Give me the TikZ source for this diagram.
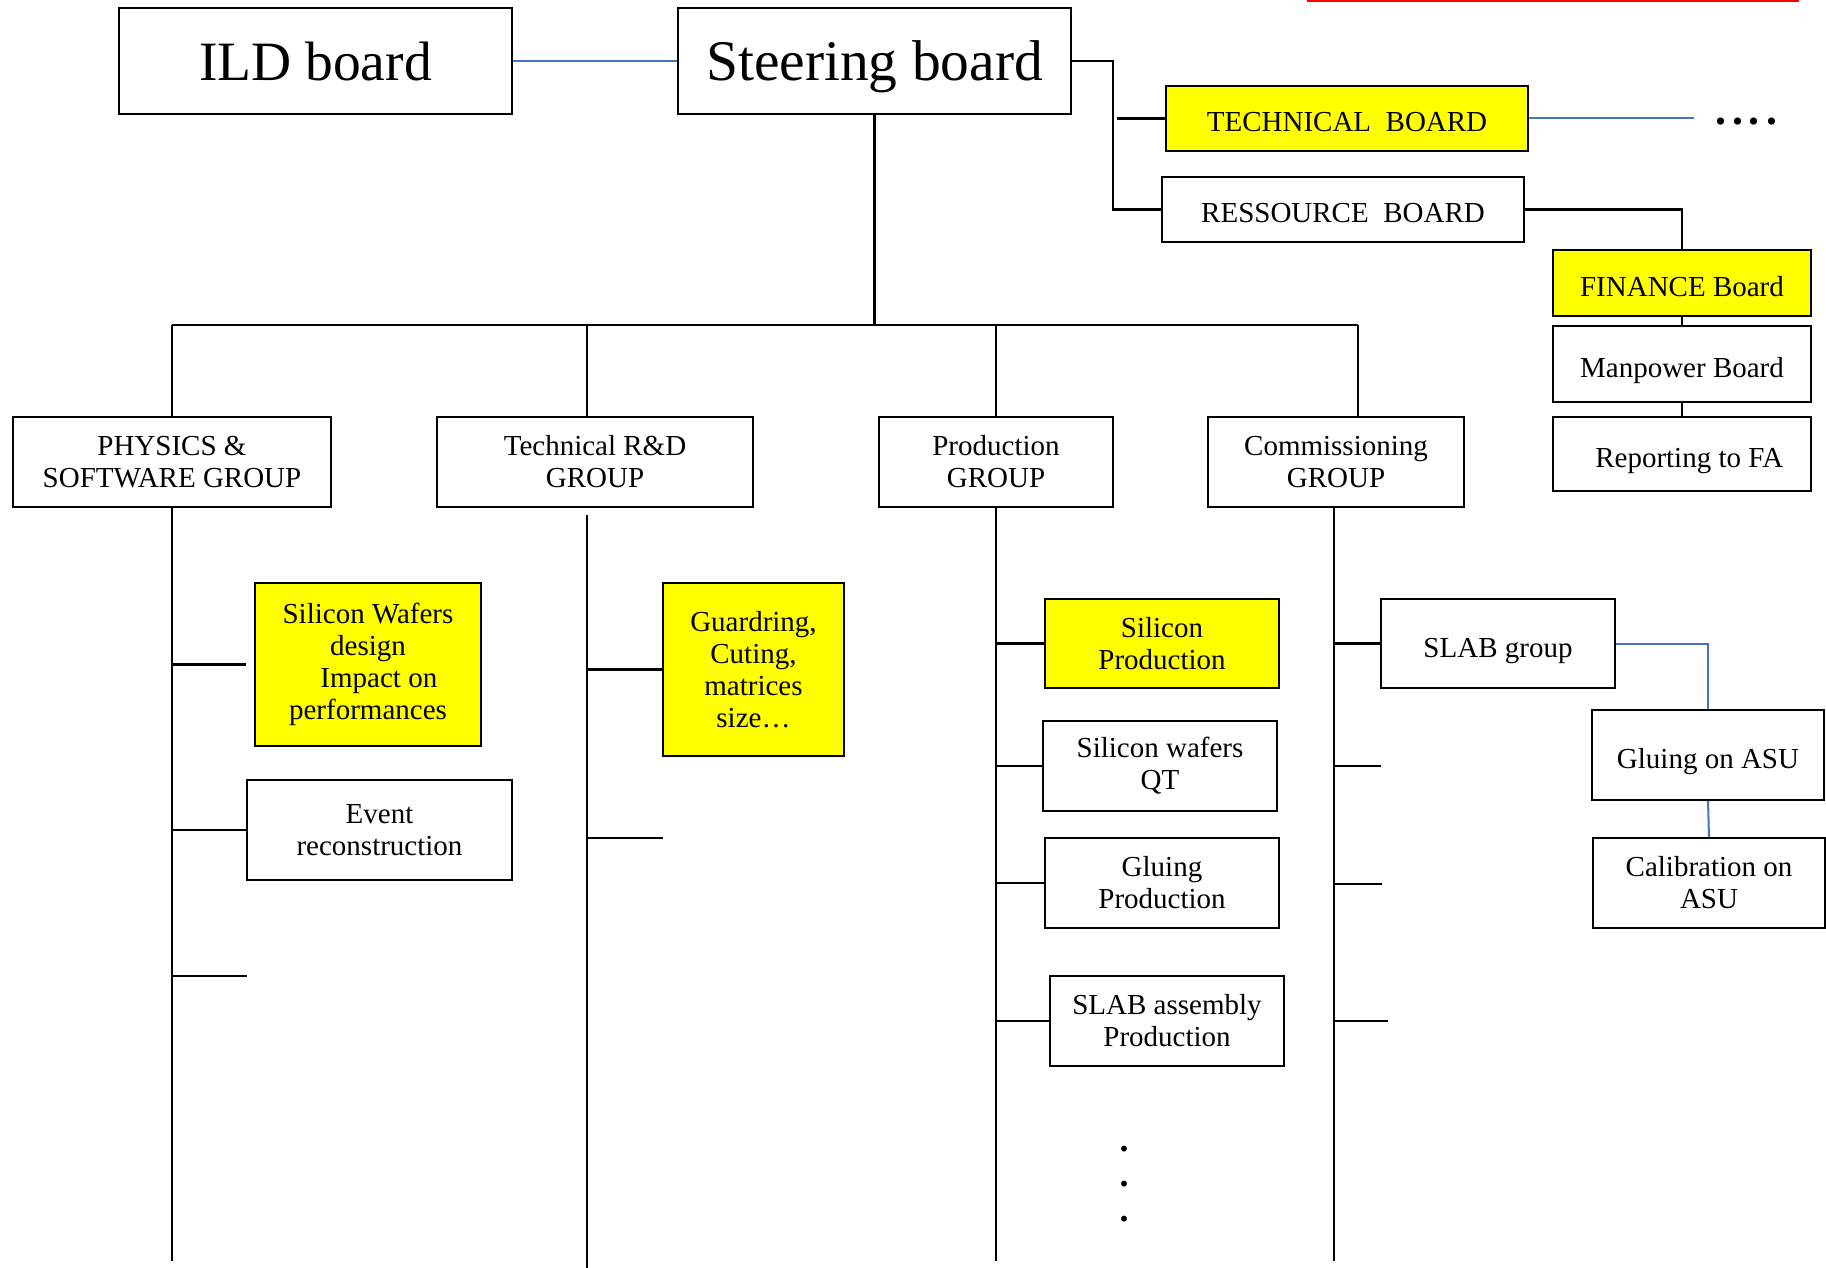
\documentclass[tikz,border=0pt]{standalone}
\usepackage{fontspec}
\setmainfont{Liberation Serif}
\definecolor{hl}{RGB}{255,255,0}
\definecolor{blueline}{RGB}{68,114,196}
\begin{document}
\begin{tikzpicture}[x=1pt,y=-1pt,
  box/.style={draw=black, line width=1.7pt, inner sep=0pt, align=center, font=\fontsize{29}{32}\selectfont},
  ybox/.style={box, fill=hl},
  one/.style={text height=27pt, text depth=0pt},
  big/.style={box, font=\fontsize{57.5}{60}\selectfont, text height=40pt, text depth=0pt},
  conn/.style={line width=2.2pt, black},
  bconn/.style={line width=2pt, blueline},
  dotnode/.style={inner sep=0pt, font=\fontsize{44}{44}\selectfont\bfseries}
]
\useasboundingbox (0,0) rectangle (1826,1268);
\draw[red, line width=3pt] (1307,1) -- (1799,1);

% top row
\node[big, font=\fontsize{55.5}{60}\selectfont, minimum width=393pt, minimum height=106pt] (ild) at (315.5,61) {ILD board};
\node[big, minimum width=393pt, minimum height=106pt] (steer) at (874.5,61) {Steering board};
\node[ybox, one, minimum width=362pt, minimum height=65pt] (tech) at (1347,118.5) {TECHNICAL\ \ BOARD};
\node[box, one, minimum width=362pt, minimum height=65pt] (ress) at (1343,209.5) {RESSOURCE\ \ BOARD};
\node[ybox, one, minimum width=258pt, minimum height=66pt] (fin) at (1682,283) {FINANCE Board};
\node[box, one, minimum width=258pt, minimum height=76pt] (man) at (1682,364) {Manpower Board};
\node[box, one, minimum width=258pt, minimum height=74pt] (rep) at (1682,454) {\ \ Reporting to FA};
\node[dotnode] (tdots) at (1746,122) {.\hspace{6pt}.\hspace{6pt}.\hspace{6pt}.};

% groups
\node[box, minimum width=318pt, minimum height=90pt] (phys) at (172,462) {PHYSICS \&\\SOFTWARE GROUP};
\node[box, minimum width=316pt, minimum height=90pt] (trd) at (595,462) {Technical R\&D\\GROUP};
\node[box, minimum width=234pt, minimum height=90pt] (prod) at (996,462) {Production\\GROUP};
\node[box, minimum width=256pt, minimum height=90pt] (comm) at (1336,462) {Commissioning\\GROUP};

% physics children
\node[ybox, minimum width=226pt, minimum height=163pt] (siw) at (368,664.5) {Silicon Wafers\\design\\\ \ \ Impact on\\performances};
\node[box, minimum width=265pt, minimum height=100pt] (ev) at (379.5,830) {Event\\reconstruction};
% technical children
\node[ybox, minimum width=181pt, minimum height=173pt] (gr) at (753.5,669.5) {Guardring,\\Cuting,\\matrices\\size\dots};
% production children
\node[ybox, minimum width=234pt, minimum height=89pt] (sip) at (1162,643.5) {Silicon\\Production};
\node[box, minimum width=234pt, minimum height=90pt] (qt) at (1160,766) {Silicon wafers\\QT};
\node[box, minimum width=234pt, minimum height=90pt] (glp) at (1162,883) {Gluing\\Production};
\node[box, minimum width=234pt, minimum height=90pt] (slp) at (1167,1021) {SLAB assembly\\Production};
\node[dotnode, font=\fontsize{36}{36}\selectfont\bfseries] (d1) at (1124,1149) {.};
\node[dotnode, font=\fontsize{36}{36}\selectfont\bfseries] (d2) at (1124,1184) {.};
\node[dotnode, font=\fontsize{36}{36}\selectfont\bfseries] (d3) at (1124,1219) {.};
% commissioning children
\node[box, one, minimum width=234pt, minimum height=89pt] (slab) at (1498,643.5) {SLAB group};
\node[box, one, minimum width=232pt, minimum height=90pt] (gasu) at (1708,755) {Gluing on ASU};
\node[box, minimum width=232pt, minimum height=90pt] (casu) at (1709,883) {Calibration on\\ASU};

% coordinates
\coordinate (bus) at (874.5,325);
\coordinate (busL) at (172,325);
\coordinate (busR) at (1358,325);
\coordinate (trdtop) at (587,325);
\coordinate (sr) at (1113,61);
\coordinate (tend) at (1694,118.5);
\coordinate (physend) at (172,1261);
\coordinate (trdstart) at (587,515);
\coordinate (trdend) at (587,1268);
\coordinate (prodend) at (996,1261);
\coordinate (commend) at (1334,1261);
\coordinate (ph3) at (247,976);
\coordinate (trd2) at (663,838);
\coordinate (c2) at (1381,766);
\coordinate (c3) at (1382,884);
\coordinate (c4) at (1388,1021);

% top connectors
\draw[bconn] (ild.east) -- (steer.west);
\draw[conn] (steer.east) -- (sr) -- (sr |- ress.west) -- (ress.west);
\draw[conn] ([xshift=4pt]sr |- tech.west) -- (tech.west);
\draw[bconn] (tech.east) -- (tend);
\draw[conn] (ress.east) -- (ress.east -| fin.north) -- (fin.north);
\draw[conn] (fin.south) -- (man.north);
\draw[conn] (man.south) -- (rep.north);

% bus
\draw[conn] (steer.south) -- (bus);
\draw[conn] (busL) -- (busR);
\draw[conn] (busL) -- (phys.north);
\draw[conn] (trdtop) -- (trdtop |- trd.north);
\draw[conn] (bus -| prod.north) -- (prod.north);
\draw[conn] (busR) -- (busR |- comm.north);

% verticals
\draw[conn] (phys.south) -- (physend);
\draw[conn] (trdstart) -- (trdend);
\draw[conn] (prod.south) -- (prodend);
\draw[conn] (commend |- comm.south) -- (commend);

% physics branches
\draw[conn, shorten >=8pt] (physend |- siw.west) -- (siw.west);
\draw[conn] (physend |- ev.west) -- (ev.west);
\draw[conn] (physend |- ph3) -- (ph3);
% technical branches
\draw[conn] (trdend |- gr.west) -- (gr.west);
\draw[conn] (trdend |- trd2) -- (trd2);
% production branches
\draw[conn] (prodend |- sip.west) -- (sip.west);
\draw[conn] (prodend |- qt.west) -- (qt.west);
\draw[conn] (prodend |- glp.west) -- (glp.west);
\draw[conn] (prodend |- slp.west) -- (slp.west);
% commissioning branches
\draw[conn] (commend |- slab.west) -- (slab.west);
\draw[conn] (commend |- c2) -- (c2);
\draw[conn] (commend |- c3) -- (c3);
\draw[conn] (commend |- c4) -- (c4);
\draw[bconn] (slab.east) -- (slab.east -| gasu.north) -- (gasu.north);
\draw[bconn] (gasu.south) -- (casu.north);
\end{tikzpicture}
\end{document}
